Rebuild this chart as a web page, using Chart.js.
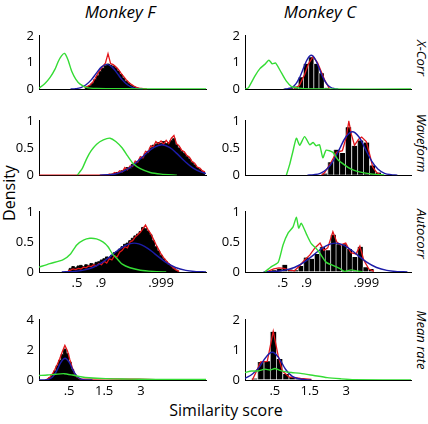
<!DOCTYPE html>
<html>
<head>
<meta charset="utf-8">
<script src="https://cdn.jsdelivr.net/npm/chart.js@4.4.1/dist/chart.umd.min.js"></script>
<style>
  body { margin: 0; width: 428px; height: 424px; background: #fff; position: relative; overflow: hidden; font-family: "Open Sans", sans-serif; color: #000; }
  canvas { position: absolute; }
  .lbl { position: absolute; white-space: nowrap; line-height: 1; }
  .title { font-size: 17px; font-style: italic; transform: translateX(-50%); }
  .row { font-size: 13px; font-style: italic; transform: translate(-50%, -50%) rotate(90deg); }
</style>
</head>
<body>
<div class="lbl title" style="left:120px;top:3px">Monkey F</div>
<div class="lbl title" style="left:320px;top:3px">Monkey C</div>
<div class="lbl row" style="left:421px;top:58px">X-Corr</div>
<div class="lbl row" style="left:421px;top:143px">Waveform</div>
<div class="lbl row" style="left:421px;top:234px">Autocorr</div>
<div class="lbl row" style="left:421px;top:340px">Mean rate</div>
<div class="lbl" style="left:9px;top:193px;font-size:16px;transform:translate(-50%,-50%) rotate(-90deg)">Density</div>
<div class="lbl" style="left:226px;top:402px;font-size:16px;transform:translateX(-50%)">Similarity score</div>
<script>
// x axis for the three similarity rows is Fisher-z; mean rate row uses a warped position axis
const zMin = -0.92, zMax = 5.54;
const zTickValues = [0.549, 1.472, 3.8];
const zTickLabels = ['.5', '.9', '.999'];
const rateTickValues = [0.18, 0.39, 0.61];
const rateTickLabels = ['.5', '1.5', '3'];

// ---- Monkey F, X-Corr
const fXcorrBinStart = 0.85;
const fXcorrHist = [0.04,0.08,0.13,0.22,0.36,0.5,0.66,0.78,0.88,0.94,0.9,0.86,0.8,0.68,0.55,0.42,0.3,0.22,0.14,0.09,0.05,0.03,0.02,0.01,0.005];
const fXcorrRed = [0.06,0.1,0.16,0.25,0.4,0.58,0.72,0.86,0.98,1.33,0.96,0.92,0.84,0.74,0.6,0.48,0.36,0.26,0.18,0.12,0.07,0.04,0.03,0.01,0];
const fXcorrFitX = [0.3,0.5,0.7,0.9,1.1,1.3,1.5,1.7,1.9,2.1,2.3,2.5,2.7,2.9,3.1];
const fXcorrFit = [0.005,0.019,0.062,0.165,0.35,0.6,0.835,0.93,0.835,0.6,0.35,0.165,0.062,0.019,0.005];
const fXcorrNullX = [-0.92,-0.7,-0.49,-0.3,-0.18,-0.05,0.07,0.2,0.35,0.5,0.67,0.94,1.3,2,3,5.54];
const fXcorrNull = [0.04,0.2,0.44,0.75,1.03,1.25,1.34,1.1,0.66,0.38,0.19,0.06,0.03,0.02,0.01,0.01];

// ---- Monkey C, X-Corr
const cXcorrBinX = [0.65,0.85,1.05,1.25,1.45,1.65,1.85,2.05,2.25];
const cXcorrHist = [0.03,0.05,0.1,0.45,0.95,1.2,0.95,0.6,0.05];
const cXcorrRedX = [1.0,1.2,1.4,1.55,1.73,1.9,2.05,2.2,2.37];
const cXcorrRed = [0.02,0.15,0.55,0.95,1.22,1.0,0.65,0.3,0.02];
const cXcorrFitX = [0.61,0.76,0.91,1.06,1.21,1.36,1.51,1.66,1.81,1.96,2.11,2.26,2.41,2.56,2.71];
const cXcorrFit = [0.004,0.021,0.073,0.2,0.45,0.8,1.13,1.27,1.13,0.8,0.45,0.2,0.073,0.021,0.004];
const cXcorrNullX = [-0.92,-0.79,-0.53,-0.34,-0.15,0.01,0.14,0.27,0.5,0.69,0.89,1.14,1.4,1.8,5.54];
const cXcorrNull = [0,0.05,0.5,0.77,0.93,1.09,0.95,0.98,0.61,0.3,0.1,0.05,0.02,0.005,0.005];

// ---- Monkey F, Waveform
const fWaveBinStart = 1.8;
const fWaveHist = [0.01,0.02,0.03,0.05,0.04,0.08,0.1,0.14,0.12,0.2,0.22,0.25,0.3,0.33,0.4,0.44,0.5,0.55,0.57,0.6,0.58,0.62,0.58,0.6,0.64,0.67,0.56,0.5,0.44,0.4,0.35,0.3,0.24,0.19,0.14,0.11,0.07,0.05];
const fWaveRed = [0.02,0.01,0.05,0.03,0.08,0.06,0.14,0.1,0.17,0.16,0.26,0.24,0.34,0.32,0.44,0.42,0.54,0.52,0.62,0.58,0.63,0.57,0.64,0.58,0.68,0.73,0.58,0.54,0.46,0.43,0.36,0.33,0.25,0.22,0.15,0.13,0.08,0.06];
const fWaveFitX = [1.43,1.73,2.03,2.33,2.63,2.93,3.23,3.53,3.83,4.13,4.43,4.73,5.03,5.33,5.54];
const fWaveFit = [0.002,0.007,0.023,0.07,0.15,0.27,0.4,0.512,0.56,0.512,0.392,0.251,0.134,0.06,0.03];
const fWaveNullX = [0.56,0.75,0.93,1.1,1.31,1.57,1.83,2.05,2.3,2.5,2.73,3.0,3.38,3.8,4.41];
const fWaveNull = [0,0.12,0.31,0.45,0.57,0.65,0.68,0.62,0.5,0.36,0.21,0.12,0.05,0.02,0];

// ---- Monkey C, Waveform
const cWaveBinX = [2.18,2.41,2.64,2.87,3.10,3.34,3.57,3.80,4.03,4.26];
const cWaveHist = [0.03,0.24,0.47,0.41,0.88,0.54,0.64,0.6,0.18,0.05];
const cWaveRedX = [2.06,2.18,2.41,2.64,2.87,3.02,3.12,3.22,3.34,3.5,3.62,3.8,3.95,4.05,4.2,4.4];
const cWaveRed = [0,0.05,0.22,0.42,0.45,0.7,0.99,0.75,0.55,0.66,0.7,0.62,0.35,0.15,0.05,0];
const cWaveFitX = [1.51,1.76,2.01,2.26,2.51,2.76,3.01,3.26,3.51,3.76,4.01,4.26,4.51,4.76,5.01];
const cWaveFit = [0.002,0.009,0.035,0.108,0.26,0.485,0.706,0.8,0.706,0.485,0.26,0.108,0.035,0.009,0.002];
const cWaveNullX = [0.69,0.82,0.95,1.08,1.21,1.40,1.60,1.73,1.85,1.98,2.11,2.24,2.5,2.69,2.95,3.21,3.53,4.05,4.5];
const cWaveNull = [0,0.2,0.45,0.68,0.55,0.71,0.56,0.6,0.54,0.56,0.32,0.46,0.42,0.29,0.19,0.11,0.06,0.02,0.005];

// ---- Monkey F, Autocorr
const fAutoBinStart = 0.2;
const fAutoHist = [0.03,0.06,0.09,0.07,0.1,0.11,0.09,0.12,0.11,0.14,0.13,0.16,0.17,0.2,0.22,0.25,0.24,0.28,0.32,0.34,0.38,0.42,0.46,0.48,0.52,0.56,0.6,0.63,0.67,0.74,0.72,0.68,0.62,0.52,0.42,0.35,0.28,0.22,0.17,0.13,0.09,0.06,0.03,0.01];
const fAutoRed = [0.02,0.03,0.05,0.04,0.06,0.05,0.08,0.07,0.1,0.09,0.12,0.1,0.14,0.12,0.18,0.15,0.22,0.2,0.27,0.25,0.33,0.36,0.42,0.4,0.5,0.52,0.58,0.62,0.66,0.72,0.78,0.7,0.64,0.55,0.46,0.38,0.3,0.24,0.19,0.14,0.1,0.06,0.03,0.01];
const fAutoFitX = [-0.04,0.36,0.76,1.16,1.56,1.96,2.36,2.76,3.16,3.56,3.96,4.36,4.76,5.16,5.54];
const fAutoFit = [0.002,0.007,0.026,0.075,0.169,0.301,0.427,0.48,0.427,0.301,0.169,0.075,0.026,0.007,0.002];
const fAutoNullX = [-0.92,-0.5,0,0.3,0.54,0.8,1.05,1.3,1.55,1.75,1.92,2.1,2.3,2.6,3.0,3.5,4.0];
const fAutoNull = [0.08,0.14,0.2,0.3,0.45,0.53,0.56,0.55,0.5,0.42,0.3,0.22,0.13,0.07,0.03,0.01,0];

// ---- Monkey C, Autocorr
const cAutoBinX = [0.2,0.41,0.62,0.83,1.04,1.25,1.46,1.67,1.88,2.09,2.30,2.51,2.72,2.93,3.14,3.35,3.56,3.77,3.98];
const cAutoHist = [0.03,0.05,0.12,0.04,0.03,0.1,0.24,0.22,0.3,0.42,0.36,0.62,0.46,0.46,0.38,0.25,0.42,0.08,0.05];
const cAutoRedX = [-0.1,0.2,0.4,0.6,0.8,1.0,1.2,1.4,1.6,1.8,2.0,2.15,2.3,2.5,2.65,2.8,3.0,3.2,3.4,3.55,3.7,3.9,4.1];
const cAutoRed = [0,0.05,0.07,0.06,0.03,0.02,0.1,0.2,0.28,0.4,0.48,0.36,0.4,0.67,0.5,0.45,0.48,0.32,0.3,0.43,0.2,0.05,0.01];
const cAutoFitX = [-0.2,0.2,0.6,1.0,1.4,1.8,2.2,2.6,3.0,3.4,3.8,4.2,4.6,5.0,5.4];
const cAutoFit = [0.002,0.007,0.026,0.075,0.169,0.301,0.427,0.48,0.427,0.301,0.169,0.075,0.026,0.007,0.002];
const cAutoNullX = [-0.15,0.11,0.37,0.56,0.76,0.95,1.08,1.17,1.27,1.47,1.66,1.85,1.98,2.24,2.5,2.76,2.95,3.21,3.66];
const cAutoNull = [0,0.09,0.16,0.45,0.65,0.75,0.91,0.73,0.81,0.63,0.47,0.39,0.32,0.16,0.11,0.06,0.01,0.035,0];

// ---- Monkey F, Mean rate
const fRateBinStart = 0.05;
const fRateHist = [0.05,0.15,0.35,0.6,0.95,1.3,1.7,2.05,1.75,1.2,0.7,0.35,0.15,0.06,0.02];
const fRateRedX = [0.035,0.05,0.065,0.08,0.095,0.11,0.125,0.14,0.155,0.17,0.185,0.2,0.215,0.23,0.245,0.26,0.3,0.4,0.5,0.6,0.7];
const fRateRed = [0,0.06,0.18,0.4,0.7,1.05,1.45,1.9,2.3,1.95,1.35,0.8,0.4,0.18,0.08,0.05,0.06,0.07,0.06,0.05,0.03];
const fRateFitX = [0,0.031,0.056,0.081,0.106,0.131,0.156,0.181,0.206,0.231,0.256,0.281,0.32];
const fRateFit = [0,0.007,0.045,0.2,0.61,1.17,1.45,1.17,0.61,0.2,0.045,0.007,0];
const fRateNullX = [0,0.05,0.1,0.15,0.2,0.25,0.3,0.4,0.5,0.6,0.8,1.0];
const fRateNull = [0.3,0.33,0.38,0.42,0.33,0.22,0.15,0.09,0.07,0.05,0.04,0.03];

// ---- Monkey C, Mean rate
const cRateBinX = [0.056,0.094,0.132,0.170,0.207,0.245,0.282,0.319];
const cRateHist = [0.05,0.6,0.62,1.6,0.7,0.2,0.1,0.05];
const cRateRedX = [0.044,0.07,0.094,0.134,0.17,0.2,0.225,0.265,0.335,0.4];
const cRateRed = [0,0.3,0.6,0.62,1.62,0.8,0.3,0.1,0.05,0.02];
const cRateFitX = [0,0.045,0.085,0.125,0.165,0.205,0.245,0.285,0.325,0.365,0.4];
const cRateFit = [0.05,0.2,0.42,0.75,0.92,0.72,0.35,0.12,0.04,0.01,0];
const cRateNullX = [0,0.04,0.08,0.12,0.15,0.18,0.21,0.24,0.28,0.335,0.415,0.495,0.575,0.656,1.0];
const cRateNull = [0.25,0.3,0.3,0.36,0.33,0.38,0.32,0.28,0.25,0.22,0.15,0.08,0.04,0.01,0.005];

// bin centres from a start and width
function bins(start, width, n) {
  const out = [];
  for (let i = 0; i < n; i++) out.push(+(start + i * width).toFixed(4));
  return out;
}
function pts(xs, ys) {
  return xs.map((x, i) => ({x: x, y: ys[i]}));
}

const fXcorrBinX = bins(fXcorrBinStart, 0.1, fXcorrHist.length);
const fWaveBinX = bins(fWaveBinStart, 0.1, fWaveHist.length);
const fAutoBinX = bins(fAutoBinStart, 0.1, fAutoHist.length);
const fRateBinX = bins(fRateBinStart, 0.015, fRateHist.length);

const panels = [
  {col: 0, row: 0, ymax: 2, bars: false, histX: fXcorrBinX, hist: fXcorrHist, redX: fXcorrBinX, red: fXcorrRed, fitX: fXcorrFitX, fit: fXcorrFit, nullX: fXcorrNullX, nul: fXcorrNull},
  {col: 1, row: 0, ymax: 2, bars: true, histX: cXcorrBinX, hist: cXcorrHist, redX: cXcorrRedX, red: cXcorrRed, fitX: cXcorrFitX, fit: cXcorrFit, nullX: cXcorrNullX, nul: cXcorrNull},
  {col: 0, row: 1, ymax: 1, bars: false, redLead: true, histX: fWaveBinX, hist: fWaveHist, redX: fWaveBinX, red: fWaveRed, fitX: fWaveFitX, fit: fWaveFit, nullX: fWaveNullX, nul: fWaveNull},
  {col: 1, row: 1, ymax: 1, bars: true, histX: cWaveBinX, hist: cWaveHist, redX: cWaveRedX, red: cWaveRed, fitX: cWaveFitX, fit: cWaveFit, nullX: cWaveNullX, nul: cWaveNull},
  {col: 0, row: 2, ymax: 1, bars: false, histX: fAutoBinX, hist: fAutoHist, redX: fAutoBinX, red: fAutoRed, fitX: fAutoFitX, fit: fAutoFit, nullX: fAutoNullX, nul: fAutoNull},
  {col: 1, row: 2, ymax: 1, bars: true, histX: cAutoBinX, hist: cAutoHist, redX: cAutoRedX, red: cAutoRed, fitX: cAutoFitX, fit: cAutoFit, nullX: cAutoNullX, nul: cAutoNull},
  {col: 0, row: 3, ymax: 4, bars: false, histX: fRateBinX, hist: fRateHist, redX: fRateRedX, red: fRateRed, fitX: fRateFitX, fit: fRateFit, nullX: fRateNullX, nul: fRateNull},
  {col: 1, row: 3, ymax: 2, bars: true, histX: cRateBinX, hist: cRateHist, redX: cRateRedX, red: cRateRed, fitX: cRateFitX, fit: cRateFit, nullX: cRateNullX, nul: cRateNull},
];

// plot-area geometry of the grid
const colLeft = [39, 245];
const colWidth = [167, 166];
const rowTop = [31, 116, 207, 315];
const rowHeight = [63, 64, 65, 65];

const tickFont = {family: '"Open Sans", sans-serif', size: 13};

function makePanel(p) {
  const padL = 34, padT = 8, padR = 5;
  const xh = p.row >= 2 ? 20 : 8;
  const L = colLeft[p.col], W = colWidth[p.col], T = rowTop[p.row], H = rowHeight[p.row];
  const cv = document.createElement('canvas');
  cv.width = W + padL + padR;
  cv.height = H + padT + xh;
  cv.style.left = (L - padL) + 'px';
  cv.style.top = (T - padT) + 'px';
  document.body.appendChild(cv);

  const isRate = p.row === 3;
  const xmin = isRate ? 0 : zMin, xmax = isRate ? 1 : zMax;
  const tickVals = isRate ? rateTickValues : zTickValues;
  const tickLabs = isRate ? rateTickLabels : zTickLabels;

  let histDs;
  if (p.bars) {
    histDs = {type: 'bar', data: pts(p.histX, p.hist), backgroundColor: '#000', borderColor: '#b8b8b8',
      borderWidth: {left: 1, top: 0, right: 0, bottom: 0}, borderSkipped: false,
      barPercentage: 1, categoryPercentage: 1, order: 4};
  } else {
    histDs = {type: 'line', data: pts(p.histX, p.hist), stepped: 'middle', fill: 'origin',
      backgroundColor: '#000', borderColor: '#000', borderWidth: 1, pointRadius: 0, order: 4};
  }
  let redData = pts(p.redX, p.red);
  if (p.redLead) redData = [{x: xmin, y: 0}, {x: p.redX[0], y: 0}].concat(redData);

  new Chart(cv, {
    type: 'line',
    data: {
      datasets: [
        histDs,
        {type: 'line', data: redData, borderColor: '#e3151a', borderWidth: 1.3, pointRadius: 0, tension: 0, fill: false, order: 3},
        {type: 'line', data: pts(p.fitX, p.fit), borderColor: '#1c1ca8', borderWidth: 1.4, pointRadius: 0, tension: 0.4, fill: false, order: 2},
        {type: 'line', data: pts(p.nullX, p.nul), borderColor: '#35dc35', borderWidth: 1.4, pointRadius: 0, tension: 0.2, fill: false, order: 1},
      ]
    },
    options: {
      responsive: false,
      animation: false,
      devicePixelRatio: 1,
      events: [],
      layout: {padding: {top: padT, right: padR, left: 0, bottom: 0}},
      plugins: {legend: {display: false}, tooltip: {enabled: false}},
      scales: {
        x: {
          type: 'linear', min: xmin, max: xmax, offset: false,
          grid: {drawOnChartArea: false, drawTicks: false, offset: false},
          border: {color: '#000', width: 1},
          afterBuildTicks: s => { s.ticks = tickVals.map(v => ({value: v})); },
          ticks: {display: p.row >= 2, autoSkip: false, maxRotation: 0, padding: 3, color: '#000', font: tickFont,
            callback: (v, i) => tickLabs[i]},
          afterFit: s => { s.height = xh; }
        },
        y: {
          min: 0, max: p.ymax,
          grid: {drawOnChartArea: false, drawTicks: false},
          border: {color: '#000', width: 1},
          ticks: {stepSize: p.ymax / 2, color: '#000', font: tickFont, padding: 5, callback: v => String(v)},
          afterFit: s => { s.width = padL; }
        }
      }
    }
  });
}

panels.forEach(makePanel);
</script>
</body>
</html>
